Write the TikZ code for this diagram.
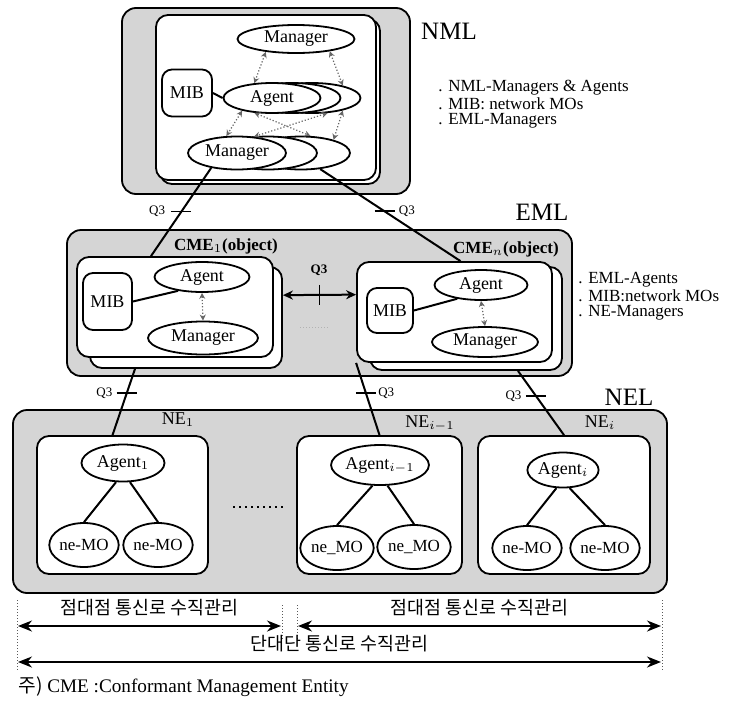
\documentclass[tikz,border=0pt]{standalone}
\usepackage{fontspec}
\setmainfont{Liberation Serif}
\newfontfamily\krfont{Noto Sans CJK KR}
\usetikzlibrary{shapes.geometric,arrows.meta,calc}

\tikzset{
  layer/.style={draw, line width=0.9pt, rounded corners=7pt, fill=gray!33},
  card/.style={draw, line width=0.9pt, rounded corners=6pt, fill=white, inner sep=0pt},
  mibbox/.style={draw, line width=0.9pt, rounded corners=5pt, fill=white, inner sep=0pt, font=\fontsize{9}{10}\selectfont},
  obj/.style={draw, line width=0.9pt, ellipse, fill=white, inner sep=0pt, font=\fontsize{9}{10}\selectfont},
  mo/.style={obj, minimum width=31pt, minimum height=22pt, font=\fontsize{8.5}{10}\selectfont},
  mgmt/.style={<->, >={Stealth[length=3pt,width=3pt]}, densely dotted, gray!80!black, line width=0.6pt},
  link/.style={line width=1pt},
  qtick/.style={line width=0.9pt},
  qlabel/.style={font=\fontsize{6.5}{7}\selectfont, inner sep=1pt},
  layername/.style={font=\fontsize{12.5}{14}\selectfont},
  cmename/.style={font=\bfseries\fontsize{8.5}{10}\selectfont},
  nename/.style={font=\fontsize{9}{10}\selectfont},
  roles/.style={align=left, anchor=north west, font=\fontsize{8.5}{7.5}\selectfont, inner sep=0pt},
  span/.style={<->, >={Stealth[length=7pt,width=5.5pt]}, line width=1pt},
  guide/.style={densely dotted, gray!70!black, line width=0.5pt},
  krtext/.style={font=\krfont\fontsize{9.2}{10}\selectfont}
}

\begin{document}
\begin{tikzpicture}[x=0.5pt, y=-0.5pt]
\useasboundingbox (0,0) rectangle (739,707);

% Layers
\draw[layer] (122,8) rectangle (410,194);
\draw[layer] (67,230) rectangle (572,376);
\draw[layer] (13,410) rectangle (667,593);

\node[layername] (nmlName) at (449,31) {NML};
\node[layername] (emlName) at (542,212) {EML};
\node[layername] (nelName) at (629,397) {NEL};

\node[roles] (nmlRoles) at (438,80) {. NML-Managers \& Agents\\. MIB: network MOs\\. EML-Managers};
\node[roles] (emlRoles) at (578,272) {. EML-Agents\\. MIB:network MOs\\. NE-Managers};

% NML managing system
\node[card, minimum width=110pt, minimum height=82.5pt] (nmlBack) at (270,101.5) {};
\node[card, minimum width=110pt, minimum height=82.5pt] (nmlBox) at (266,97.5) {};
\node[obj, minimum width=58.5pt, minimum height=14pt] (nmlMgrTop) at (296,39) {Manager};
\node[mibbox, minimum width=25pt, minimum height=23.5pt] (nmlMib) at (187,93) {MIB};
\foreach \x/\n in {312/C, 292/B}
  \node[obj, minimum width=48.5pt, minimum height=15pt] (nmlAgent\n) at (\x,98) {};
\node[obj, minimum width=48.5pt, minimum height=15pt] (nmlAgent) at (272,98) {Agent};
\foreach \x/\n in {301/C, 268/B}
  \node[obj, minimum width=49pt, minimum height=16.5pt] (nmlMgr\n) at (\x,153) {};
\node[obj, minimum width=49pt, minimum height=16.5pt] (nmlMgr) at (237,153) {Manager};

\draw[link] (nmlMib.east) -- (nmlAgent.west);
\draw[mgmt] (nmlMgrTop.203) -- (nmlAgent.140);
\draw[mgmt] (nmlMgrTop.340) -- (nmlAgentC.22);
\draw[mgmt] (nmlAgent.203) -- (nmlMgr.122);
\draw[mgmt] (nmlAgent.220) -- (nmlMgrC.61);
\draw[mgmt] (nmlAgentC.316) -- (nmlMgr.44);
\draw[mgmt] (nmlAgentC.338) -- (nmlMgrC.22);

% EML: CME_1
\node[card, minimum width=96pt, minimum height=50.5pt] (cmeAback) at (186,317.5) {};
\node[card, minimum width=98pt, minimum height=50pt] (cmeA) at (175,307) {};
\node[cmename] (cmeAName) at (226,246) {CME$_1$(object)};
\node[mibbox, minimum width=24.5pt, minimum height=28.5pt] (cmeAMib) at (107.5,301.5) {MIB};
\node[obj, minimum width=47.5pt, minimum height=15pt] (cmeAAgent) at (202,277) {Agent};
\node[obj, minimum width=55pt, minimum height=16.5pt] (cmeAMgr) at (203,338) {Manager};
\draw[link] (cmeAMib.east) -- (cmeAAgent.210);
\draw[mgmt] (cmeAAgent.south) -- (cmeAMgr.north);

% EML: CME_n
\node[card, minimum width=96pt, minimum height=51.5pt] (cmeBback) at (466,318.5) {};
\node[card, minimum width=97.5pt, minimum height=50pt] (cmeB) at (454.5,312) {};
\node[cmename] (cmeBName) at (506,249) {CME$_n$(object)};
\node[mibbox, minimum width=23pt, minimum height=22.5pt] (cmeBMib) at (390,310.5) {MIB};
\node[obj, minimum width=46.5pt, minimum height=15pt] (cmeBAgent) at (481,285) {Agent};
\node[obj, minimum width=53pt, minimum height=15pt] (cmeBMgr) at (485,342) {Manager};
\draw[link] (cmeBMib.east) -- (cmeBAgent.210);
\draw[mgmt] (cmeBAgent.south) -- (cmeBMgr.north);

% Q3 between CMEs
\draw[link, <->, >={Stealth[length=5pt,width=4.5pt]}] (cmeAback.13) -- coordinate[pos=0.5] (qMid) (cmeB.170);
\draw[qtick] ([yshift=5pt]qMid) -- ([yshift=-5pt]qMid);
\node[qlabel, font=\bfseries\fontsize{6.5}{7}\selectfont] (qMidLabel) at (319,270) {Q3};
\draw[guide, gray!60] (300,327) -- (328,327);

% NML -> EML
\draw[link] (nmlMgr.210) -- coordinate[pos=0.495] (qA) ([xshift=-12pt]cmeA.north);
\draw[qtick] ([xshift=-5pt]qA) -- ([xshift=5pt]qA);
\node[qlabel, left] at ([xshift=-7pt]qA) {Q3};
\draw[link] (nmlMgrC.-40) -- coordinate[pos=0.459] (qB) ([xshift=3pt]cmeB.north);
\draw[qtick] ([xshift=-5pt]qB) -- ([xshift=5pt]qB);
\node[qlabel, right] at ([xshift=6pt]qB) {Q3};

% NEL
\node[card, minimum width=85.5pt, minimum height=69pt] (neA) at (122.5,505) {};
\node[card, minimum width=82.5pt, minimum height=69pt] (neB) at (379.5,505) {};
\node[card, minimum width=86pt, minimum height=69pt] (neC) at (564,505) {};
\node[nename] (neAName) at (178,420) {NE$_1$};
\node[nename] (neBName) at (430,423) {NE$_{i-1}$};
\node[nename] (neCName) at (600,423) {NE$_i$};

\node[obj, minimum width=41.5pt, minimum height=18.5pt] (neAAgent) at (123,463) {Agent$_1$};
\node[mo] (neAMoL) at (84,545) {ne-MO};
\node[mo] (neAMoR) at (158,545) {ne-MO};
\node[obj, minimum width=42pt, minimum height=20pt] (neBAgent) at (380,465) {Agent$_{i-1}$};
\node[mo] (neBMoL) at (337,548) {ne\_MO};
\node[mo] (neBMoR) at (414,547) {ne\_MO};
\node[obj, minimum width=34.5pt, minimum height=17.5pt] (neCAgent) at (563,470) {Agent$_i$};
\node[mo] (neCMoL) at (527,548) {ne-MO};
\node[mo] (neCMoR) at (605,548) {ne-MO};

\foreach \ne in {neA, neB, neC} {
  \draw[link] (\ne Agent.250) -- (\ne MoL.north);
  \draw[link] (\ne Agent.290) -- (\ne MoR.north);
}
\draw[dotted, line width=1pt] (233,507) -- (283,507);

% EML -> NEL
\draw[link] ([xshift=-25.5pt]cmeAback.south) -- coordinate[pos=0.368] (qC) ([xshift=-5pt]neA.north);
\draw[qtick] ([xshift=-5pt]qC) -- ([xshift=5pt]qC);
\node[qlabel, left] at ([xshift=-6pt]qC) {Q3};
\draw[link] (cmeB.south west) -- coordinate[pos=0.42] (qD) (neB.north);
\draw[qtick] ([xshift=-5pt]qD) -- ([xshift=5pt]qD);
\node[qlabel, right] at ([xshift=5pt]qD) {Q3};
\draw[link] ([xshift=26pt]cmeBback.south) -- coordinate[pos=0.388] (qE) (neC.north);
\draw[qtick] ([xshift=-5pt]qE) -- ([xshift=5pt]qE);
\node[qlabel, left] at ([xshift=-6pt]qE) {Q3};

% Management spans
\draw[guide] (17,600) -- (17,670);
\draw[guide] (282,605) -- (282,640);
\draw[guide] (297,605) -- (297,640);
\draw[guide] (662,600) -- (662,670);
\coordinate (spanL1) at (18,626);
\coordinate (spanM1) at (281,626);
\coordinate (spanM2) at (298,626);
\coordinate (spanR1) at (661,626);
\coordinate (spanL2) at (18,662);
\coordinate (spanR2) at (661,662);
\draw[span] (spanL1) -- node[krtext, above=1pt] (pathA) {점대점 통신로 수직관리} (spanM1);
\draw[span] (spanM2) -- node[krtext, above=1pt] (pathB) {점대점 통신로 수직관리} (spanR1);
\draw[span] (spanL2) -- node[krtext, above=1pt] (pathC) {단대단 통신로 수직관리} (spanR2);

\node[anchor=west, font=\fontsize{9.6}{11}\selectfont, inner sep=0pt] (note) at (18,687) {{\krfont 주)} CME :Conformant Management Entity};
\end{tikzpicture}
\end{document}
